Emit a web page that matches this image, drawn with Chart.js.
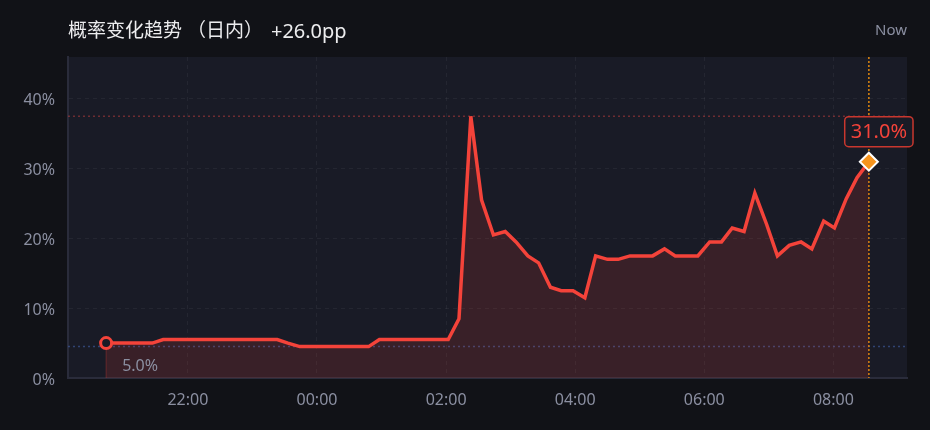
<!DOCTYPE html>
<html>
<head>
<meta charset="utf-8">
<script src="https://cdn.jsdelivr.net/npm/chart.js@4/dist/chart.umd.min.js"></script>
<style>
  html, body { margin: 0; padding: 0; background: #111217; }
  canvas { display: block; }
</style>
</head>
<body>
<canvas id="trendChart" width="930" height="430"></canvas>
<script>
// данные с графика
const timeLabels = [
    '20:44', '20:55', '21:05', '21:16', '21:27', '21:37', '21:48', '21:58', '22:09', '22:19',
    '22:30', '22:41', '22:51', '23:02', '23:12', '23:23', '23:33', '23:44', '23:55', '00:05',
    '00:16', '00:26', '00:37', '00:48', '00:58', '01:09', '01:19', '01:30', '01:40', '01:51',
    '02:02', '02:12', '02:23', '02:33', '02:44', '02:55', '03:05', '03:16', '03:26', '03:37',
    '03:47', '03:58', '04:09', '04:19', '04:30', '04:40', '04:51', '05:01', '05:12', '05:23',
    '05:33', '05:44', '05:54', '06:05', '06:16', '06:26', '06:37', '06:47', '06:58', '07:08',
    '07:19', '07:30', '07:40', '07:51', '08:01', '08:12', '08:22', '08:33'
];
const probValues = [
    5.0, 5.0, 5.0, 5.0, 5.0, 5.5, 5.5, 5.5, 5.5, 5.5,
    5.5, 5.5, 5.5, 5.5, 5.5, 5.5, 5.0, 4.5, 4.5, 4.5,
    4.5, 4.5, 4.5, 4.5, 5.5, 5.5, 5.5, 5.5, 5.5, 5.5,
    5.5, 8.5, 37.5, 25.5, 20.5, 21.0, 19.5, 17.5, 16.5, 13.0,
    12.5, 12.5, 11.5, 17.5, 17.0, 17.0, 17.5, 17.5, 17.5, 18.5,
    17.5, 17.5, 17.5, 19.5, 19.5, 21.5, 21.0, 26.5, 22.0, 17.5,
    19.0, 19.5, 18.5, 22.5, 21.5, 25.7, 28.7, 31.0
];
const xTickLabels = ['22:00', '00:00', '02:00', '04:00', '06:00', '08:00'];
const yTickValues = [0, 10, 20, 30, 40];
const titleText = '概率变化趋势 （日内）';
const nowText = 'Now';

const FONT = '"Noto Sans", "Noto Sans CJK SC", sans-serif';
const RED = '#f4433a';
const GREY = '#8b8fa1';
const PLOT_BG = '#191b26';

// время -> минуты (после полуночи переносим на следующий день)
function toMin(s) {
    const [h, m] = s.split(':').map(Number);
    return (h < 12 ? h + 24 : h) * 60 + m;
}
function fmtMin(v) {
    const t = ((Math.round(v) % 1440) + 1440) % 1440;
    return String(Math.floor(t / 60)).padStart(2, '0') + ':' + String(t % 60).padStart(2, '0');
}

const points = timeLabels.map((t, i) => ({ x: toMin(t), y: probValues[i] }));
const firstX = points[0].x;
const lastX = points[points.length - 1].x;
const padX = (lastX - firstX) * 0.05;
const lastIdx = points.length - 1;

const firstVal = probValues[0];
const lastVal = probValues[lastIdx];
const maxVal = Math.max(...probValues);
const minVal = Math.min(...probValues);
const changeText = (lastVal - firstVal >= 0 ? '+' : '') + (lastVal - firstVal).toFixed(1) + 'pp';

function dottedLine(ctx, x1, y1, x2, y2, color, dash) {
    ctx.save();
    ctx.strokeStyle = color;
    ctx.lineWidth = 1.5;
    ctx.setLineDash(dash);
    ctx.beginPath();
    ctx.moveTo(x1, y1);
    ctx.lineTo(x2, y2);
    ctx.stroke();
    ctx.restore();
}

const decorPlugin = {
    id: 'decor',
    beforeDraw(chart) {
        const { ctx, chartArea: a } = chart;
        ctx.save();
        ctx.fillStyle = '#111217';
        ctx.fillRect(0, 0, chart.width, chart.height);
        ctx.fillStyle = PLOT_BG;
        ctx.fillRect(a.left, a.top, a.right - a.left, a.bottom - a.top);
        ctx.restore();
    },
    beforeDatasetsDraw(chart) {
        const { ctx, chartArea: a, scales } = chart;
        const yMax = scales.y.getPixelForValue(maxVal);
        const yMin = scales.y.getPixelForValue(minVal);
        dottedLine(ctx, a.left, yMax, a.right, yMax, 'rgba(180, 60, 60, 0.55)', [2, 3]);
        dottedLine(ctx, a.left, yMin, a.right, yMin, 'rgba(60, 85, 150, 0.7)', [2, 3]);
        const xs = scales.x.getPixelForValue(firstX);
        const ys = scales.y.getPixelForValue(firstVal);
        ctx.save();
        ctx.strokeStyle = 'rgba(244, 67, 54, 0.3)';
        ctx.lineWidth = 1;
        ctx.beginPath();
        ctx.moveTo(xs, ys);
        ctx.lineTo(xs, a.bottom);
        ctx.stroke();
        ctx.restore();
        const xn = scales.x.getPixelForValue(lastX);
        dottedLine(ctx, xn, a.top, xn, a.bottom, '#e0870f', [2, 2]);
    },
    afterDatasetsDraw(chart) {
        const { ctx, chartArea: a, scales } = chart;
        ctx.save();
        // подпись начального значения
        const xs = scales.x.getPixelForValue(firstX);
        ctx.font = '16px ' + FONT;
        ctx.fillStyle = GREY;
        ctx.textAlign = 'left';
        ctx.textBaseline = 'middle';
        ctx.fillText(firstVal.toFixed(1) + '%', xs + 16, a.bottom - 12);

        // плашка с текущим значением
        const xn = scales.x.getPixelForValue(lastX);
        const yn = scales.y.getPixelForValue(lastVal);
        const label = lastVal.toFixed(1) + '%';
        ctx.font = '20px ' + FONT;
        const w = ctx.measureText(label).width + 12;
        const h = 30;
        const cx = xn + 10;
        const bx = cx - w / 2;
        const by = yn - 15 - h;
        ctx.fillStyle = PLOT_BG;
        ctx.strokeStyle = '#c9372e';
        ctx.lineWidth = 1.5;
        ctx.beginPath();
        ctx.roundRect(bx, by, w, h, 4);
        ctx.fill();
        ctx.stroke();
        ctx.fillStyle = RED;
        ctx.textAlign = 'center';
        ctx.fillText(label, cx, by + h / 2 + 1);
        ctx.restore();
    },
    afterDraw(chart) {
        const { ctx, chartArea: a } = chart;
        ctx.save();
        ctx.textBaseline = 'middle';
        ctx.textAlign = 'left';
        ctx.font = '19px ' + FONT;
        ctx.fillStyle = '#ececee';
        ctx.fillText(titleText, a.left, 32);
        const tw = ctx.measureText(titleText).width;
        ctx.font = '20px ' + FONT;
        ctx.fillText(changeText, a.left + tw + 8, 32);
        ctx.font = '15px ' + FONT;
        ctx.fillStyle = GREY;
        ctx.textAlign = 'right';
        ctx.fillText(nowText, a.right, 31);
        ctx.restore();
    }
};

const ctx = document.getElementById('trendChart').getContext('2d');
const trendChart = new Chart(ctx, {
    type: 'line',
    data: {
        datasets: [{
            data: points,
            borderColor: RED,
            borderWidth: 3.5,
            backgroundColor: 'rgba(244, 67, 54, 0.15)',
            fill: 'origin',
            tension: 0,
            pointRadius: c => c.dataIndex === 0 ? 5.5 : (c.dataIndex === lastIdx ? 9 : 0),
            pointStyle: c => c.dataIndex === lastIdx ? 'rectRot' : 'circle',
            pointBackgroundColor: c => c.dataIndex === lastIdx ? '#f7941d' : PLOT_BG,
            pointBorderColor: c => c.dataIndex === lastIdx ? '#ffffff' : RED,
            pointBorderWidth: c => c.dataIndex === lastIdx ? 2 : 3
        }]
    },
    options: {
        responsive: false,
        animation: false,
        layout: { padding: { top: 57, right: 23, left: 0, bottom: 0 } },
        plugins: {
            legend: { display: false },
            tooltip: { enabled: false }
        },
        scales: {
            x: {
                type: 'linear',
                min: firstX - padX,
                max: lastX + padX,
                afterBuildTicks: s => { s.ticks = xTickLabels.map(l => ({ value: toMin(l) })); },
                afterFit: s => { s.height = 52; },
                ticks: {
                    callback: v => fmtMin(v),
                    color: GREY,
                    font: { family: FONT, size: 16 },
                    padding: 13,
                    maxRotation: 0,
                    autoSkip: false
                },
                grid: { color: 'rgba(255, 255, 255, 0.05)', drawTicks: false },
                border: { color: '#2a2c3b', width: 2, dash: [4, 4] }
            },
            y: {
                min: 0,
                max: 46,
                afterBuildTicks: s => { s.ticks = yTickValues.map(v => ({ value: v })); },
                afterFit: s => { s.width = 68; },
                ticks: {
                    callback: v => v + '%',
                    color: GREY,
                    font: { family: FONT, size: 16 },
                    padding: 13,
                    labelOffset: 2
                },
                grid: { color: 'rgba(255, 255, 255, 0.05)', drawTicks: false },
                border: { color: '#2a2c3b', width: 2, dash: [4, 4] }
            }
        }
    },
    plugins: [decorPlugin]
});
</script>
</body>
</html>
